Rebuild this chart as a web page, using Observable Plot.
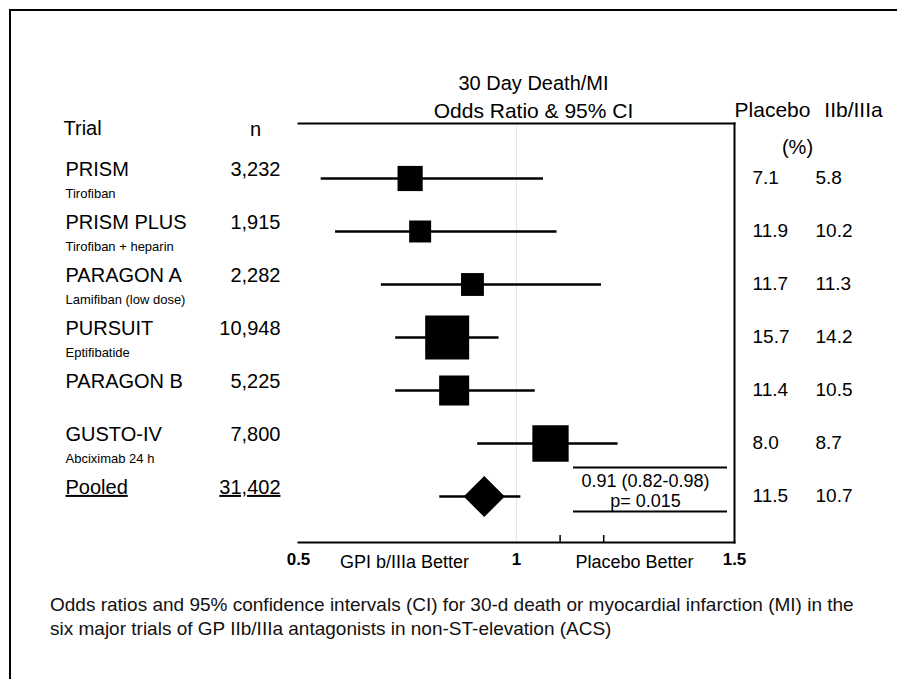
<!DOCTYPE html>
<html>
<head>
<meta charset="utf-8">
<script src="https://cdn.jsdelivr.net/npm/d3@7"></script>
<script src="https://cdn.jsdelivr.net/npm/@observablehq/plot@0.6"></script>
<style>
html, body { margin: 0; padding: 0; background: #fff; overflow: hidden; }
#page { position: relative; width: 897px; height: 679px; overflow: hidden; }
#border { position: absolute; left: 9px; top: 9px; width: 3000px; height: 3000px; border-left: 2px solid #000; border-top: 2px solid #000; }
#chart { position: absolute; left: 0; top: 0; }
#caption { position: absolute; left: 50px; top: 593px; font-family: "Liberation Sans", Arial, sans-serif; font-size: 19px; line-height: 24px; white-space: nowrap; color: #111; }
</style>
</head>
<body>
<div id="page">
  <div id="border"></div>
  <div id="chart"></div>
  <div id="caption">Odds ratios and 95% confidence intervals (CI) for 30-d death or myocardial infarction (MI) in the<br>six major trials of GP IIb/IIIa antagonists in non-ST-elevation (ACS)</div>
</div>
<script>
// ---- data ----
const trials   = ["PRISM", "PRISM PLUS", "PARAGON A", "PURSUIT", "PARAGON B", "GUSTO-IV", "Pooled"];
const drugs    = ["Tirofiban", "Tirofiban + heparin", "Lamifiban (low dose)", "Eptifibatide", "", "Abciximab 24 h", ""];
const nPatients = [3232, 1915, 2282, 10948, 5225, 7800, 31402];
const oddsRatio = [0.756, 0.779, 0.899, 0.841, 0.857, 1.078, 0.926];
const ciLow     = [0.552, 0.585, 0.690, 0.723, 0.723, 0.911, 0.824];
const ciHigh    = [1.062, 1.093, 1.195, 0.960, 1.043, 1.233, 1.010];
const placeboPct = [7.1, 11.9, 11.7, 15.7, 11.4, 8.0, 11.5];
const gpPct      = [5.8, 10.2, 11.3, 14.2, 10.5, 8.7, 10.7];
const xTicks = [0.5, 1, 1.5];
const minorTicks = [1.1, 1.2];
const pooledText = ["0.91 (0.82-0.98)", "p= 0.015"];

const rows = trials.map((t, i) => ({
  trial: t, drug: drugs[i], n: nPatients[i], or: oddsRatio[i],
  lo: ciLow[i], hi: ciHigh[i], placebo: placeboPct[i], gp: gpPct[i]
}));
const studies = rows.filter(d => d.trial !== "Pooled");
const pooled = rows.filter(d => d.trial === "Pooled");

const fmtN = d3.format(",");
const fmt1 = d3.format(".1f");
const FONT = "Liberation Sans, Arial, Helvetica, sans-serif";

const chart = Plot.plot({
  width: 897,
  height: 590,
  marginLeft: 298,
  marginRight: 163,
  marginTop: 123,
  marginBottom: 48,
  style: { fontFamily: FONT, fontSize: "20px", color: "#000", background: "transparent" },
  x: { type: "linear", domain: [0.5, 1.5], axis: null },
  y: { type: "point", domain: trials, range: [177, 497], padding: 0, axis: null },
  r: { type: "linear", domain: [1915, 10948], range: [12.4, 24.8] },
  marks: [
    // faint reference line at OR = 1
    Plot.ruleX([1], { stroke: "#e6e6e6", strokeWidth: 1 }),
    // plot box: top, right and bottom sides
    Plot.frame({ anchor: "top", stroke: "#000", strokeWidth: 2 }),
    Plot.frame({ anchor: "right", stroke: "#000", strokeWidth: 2 }),
    Plot.frame({ anchor: "bottom", stroke: "#000", strokeWidth: 2 }),
    // small ticks at the bottom
    Plot.ruleX(minorTicks, { stroke: "#000", strokeWidth: 1.5, insetTop: 412 }),
    // x axis labels
    Plot.axisX(xTicks, { tickSize: 0, tickPadding: 10, fontSize: 17, fontWeight: "bold", label: null, tickFormat: d => String(d) }),
    Plot.text(["GPI b/IIIa Better"], { frameAnchor: "bottom", textAnchor: "middle", dx: -112, dy: 25, fontSize: 18 }),
    Plot.text(["Placebo Better"], { frameAnchor: "bottom", textAnchor: "middle", dx: 118, dy: 25, fontSize: 18 }),
    // confidence intervals
    Plot.ruleY(rows, { y: "trial", x1: "lo", x2: "hi", stroke: "#000", strokeWidth: 2.5 }),
    // study estimates
    Plot.dot(studies, { x: "or", y: "trial", r: "n", symbol: "square", fill: "#000", stroke: null }),
    Plot.dot(pooled, { x: "or", y: "trial", r: 18.5, symbol: "diamond2", fill: "#000", stroke: null }),
    // pooled annotation box
    Plot.ruleY(pooled, { y: "trial", dy: -29, insetLeft: 275, insetRight: 7, stroke: "#000", strokeWidth: 2 }),
    Plot.ruleY(pooled, { y: "trial", dy: 15, insetLeft: 275, insetRight: 7, stroke: "#000", strokeWidth: 2 }),
    Plot.text(pooled, { y: "trial", text: () => pooledText[0], dx: 129, dy: -15, fontSize: 18 }),
    Plot.text(pooled, { y: "trial", text: () => pooledText[1], dx: 129, dy: 5, fontSize: 18 }),
    // header texts
    Plot.text(["30 Day Death/MI"], { frameAnchor: "top", textAnchor: "middle", dx: 17, dy: -48, fontSize: 20 }),
    Plot.text(["Odds Ratio & 95% CI"], { frameAnchor: "top", textAnchor: "middle", dx: 17, dy: -20, fontSize: 21 }),
    Plot.text(["Trial"], { frameAnchor: "top-left", textAnchor: "start", dx: -235, dy: -3, fontSize: 20 }),
    Plot.text(["n"], { frameAnchor: "top-left", textAnchor: "middle", dx: -43, dy: -2, fontSize: 20 }),
    Plot.text(["Placebo"], { frameAnchor: "top-right", textAnchor: "middle", dx: 38, dy: -21, fontSize: 21 }),
    Plot.text(["IIb/IIIa"], { frameAnchor: "top-right", textAnchor: "middle", dx: 119, dy: -21, fontSize: 21 }),
    Plot.text(["(%)"], { frameAnchor: "top-right", textAnchor: "middle", dx: 63, dy: 16, fontSize: 20 }),
    // left columns
    Plot.text(rows, { y: "trial", text: "trial", frameAnchor: "left", dx: -233, dy: -9, textAnchor: "start", fontSize: 20 }),
    Plot.text(rows, { y: "trial", text: "drug", frameAnchor: "left", dx: -233, dy: 15, textAnchor: "start", fontSize: 13 }),
    Plot.text(rows, { y: "trial", text: d => fmtN(d.n), frameAnchor: "left", dx: -18, dy: -9, textAnchor: "end", fontSize: 20 }),
    // right columns
    Plot.text(rows, { y: "trial", text: d => fmt1(d.placebo), frameAnchor: "right", dx: 18, dy: -1, textAnchor: "start", fontSize: 19 }),
    Plot.text(rows, { y: "trial", text: d => fmt1(d.gp), frameAnchor: "right", dx: 81, dy: -1, textAnchor: "start", fontSize: 19 })
  ]
});

d3.select(chart).selectAll("text")
  .filter(function () { return this.textContent === "Pooled" || this.textContent === "31,402"; })
  .style("text-decoration", "underline");

document.getElementById("chart").appendChild(chart);
</script>
</body>
</html>
